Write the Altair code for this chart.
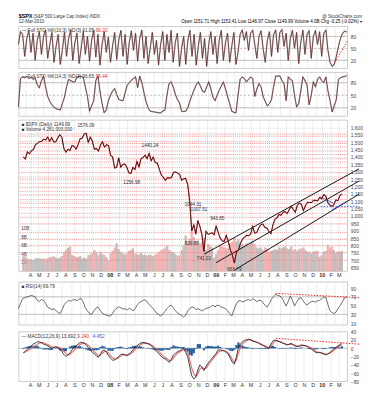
import json
import altair as alt
import pandas as pd

# ---------------- data (weekly) ----------------
START_DATE = "2007-03-09"

CLOSE = [
    1402, 1386, 1436, 1421, 1443, 1452, 1484, 1494, 1505, 1505, 1522, 1515, 1536, 1507, 1532, 1502, 1503,
    1530, 1552, 1534, 1458, 1433, 1453, 1445, 1479, 1473, 1453, 1484, 1525, 1527, 1557, 1561, 1500, 1535,
    1509, 1453, 1458, 1440, 1481, 1504, 1467, 1484, 1478,
    1411, 1401, 1325, 1330, 1395, 1331, 1349, 1353, 1331, 1293, 1288, 1330, 1315, 1370, 1332, 1390, 1397,
    1413, 1388, 1425, 1375, 1400, 1361, 1360, 1318, 1278, 1262, 1240, 1260, 1257, 1261, 1296, 1298, 1292,
    1283, 1242, 1252, 1255, 1213, 1099, 899, 940, 877, 968, 930, 873, 760, 896, 876, 879, 887, 872,
    931, 890, 850, 832, 826, 869, 827, 770, 735, 680, 756, 768, 815, 842, 857, 869, 866, 877, 929, 883,
    887, 919, 940, 946, 921, 918, 896, 879, 940, 979, 987, 1010, 1005, 1026, 1029, 1016, 1042, 1068, 1044,
    1025, 1071, 1087, 1080, 1036, 1069, 1093, 1091, 1091, 1106, 1106, 1102, 1126,
    1115, 1145, 1136, 1092, 1074, 1066, 1075, 1109, 1104, 1139, 1150,
]

VOLUME_B = [
    3.5, 3.8, 3.0, 2.8, 2.8, 2.6, 3.0, 3.1, 3.0, 2.9, 3.0, 2.8, 3.1, 3.3, 3.4, 3.5, 3.2, 3.0, 3.2, 3.6, 4.5,
    5.0, 5.5, 5.8, 3.8, 3.6, 3.4, 3.3, 3.6, 3.0, 3.2, 3.0, 3.8, 3.9, 4.2, 5.0, 4.4, 3.8, 4.6, 4.0, 3.8, 3.3, 2.5,
    4.2, 4.8, 5.6, 6.6, 5.2, 4.6, 4.2, 3.9, 4.2, 4.8, 5.0, 5.4, 4.1, 4.0, 3.9, 4.3, 3.8, 3.9, 3.7, 3.9, 3.8, 3.6,
    3.9, 4.2, 4.6, 5.0, 5.2, 5.6, 6.0, 5.0, 4.6, 4.4, 4.0, 3.6, 3.8, 5.0, 6.0, 8.4, 6.6, 7.6, 9.6, 8.0, 7.0, 7.2,
    6.5, 6.8, 7.8, 5.0, 6.4, 6.0, 5.6, 3.2,
    4.0, 5.0, 6.2, 5.8, 5.6, 5.4, 5.6, 6.6, 7.0, 7.8, 7.0, 7.4, 6.2, 6.4, 6.0, 6.6, 6.2, 6.8, 7.2, 6.4, 5.6, 5.4,
    5.6, 5.0, 5.6, 5.4, 4.6, 4.8, 4.9, 5.2, 5.0, 5.6, 5.4, 5.6, 5.8, 5.4, 5.2, 5.8, 5.0, 5.2, 4.8, 5.2, 5.4, 5.6,
    5.0, 4.6, 4.6, 4.2, 4.6, 4.8, 4.8, 3.4,
    3.8, 4.6, 4.8, 6.2, 5.6, 5.8, 5.0, 4.4, 4.6, 4.6, 4.8,
]

STO_FAST = [
    60, 92, 85, 30, 75, 95, 40, 88, 20, 70,
    92, 35, 80, 96, 25, 60, 90, 15, 55, 85,
    10, 45, 90, 30, 75, 95, 20, 65, 88, 12,
    50, 93, 35, 80, 18, 70, 96, 28, 85, 8,
    60, 92, 40, 78, 15, 55, 90, 22, 72, 95,
    30, 85, 10, 65, 94, 45, 88, 18, 75, 96,
    25, 80, 12, 50, 90, 35, 70, 8, 60, 92,
    20, 85, 40, 95, 15, 65, 88, 5, 50, 80,
    10, 70, 95, 30, 85, 8, 55, 90, 25, 75,
    5, 60, 92, 35, 80, 12, 70, 95, 20, 65,
    88, 15, 55, 90, 10, 40, 85, 96, 70, 92,
    45, 88, 95, 60, 25, 80, 94, 50, 15, 70,
    92, 30, 85, 96, 40, 90, 97, 55, 88, 20,
    75, 95, 50, 90, 12, 65, 96, 35, 85, 94,
    25, 80, 95, 60, 92, 30, 88, 96, 45, 15,
    5, 10, 30, 55, 75, 88, 93, 91.05,
]

STO_SLOW = [
    22, 90, 94, 92, 95, 90, 93, 88, 92, 75,
    68, 85, 95, 70, 47, 35, 27, 22, 18, 16,
    15, 30, 45, 70, 88, 85, 82, 82, 94, 95,
    95, 92, 70, 47, 12, 25, 37, 85, 96, 60,
    30, 8, 15, 37, 50, 60, 66, 52, 40, 38,
    37, 55, 74, 80, 86, 90, 94, 68, 96, 80,
    57, 35, 20, 12, 11, 10, 9, 8, 8, 12,
    14, 50, 78, 82, 70, 53, 40, 32, 12, 11,
    12, 20, 37, 50, 63, 75, 82, 72, 60, 57,
    70, 82, 65, 45, 37, 50, 62, 72, 82, 65,
    47, 30, 12, 9, 8, 50, 88, 94, 90, 82,
    88, 94, 90, 47, 65, 78, 70, 47, 35, 24,
    30, 40, 70, 96, 96, 96, 85, 78, 37, 94,
    88, 85, 50, 22, 30, 60, 94, 85, 74, 27,
    50, 82, 70, 88, 94, 85, 80, 94, 60, 37,
    10, 25, 40, 88, 92, 94, 95, 96.65,
]

RSI = [
    43, 55, 66, 68, 70, 71, 73, 72, 70, 62,
    59, 64, 62, 55, 46, 44, 41, 43, 38, 34,
    32, 42, 53, 58, 62, 60, 63, 64, 61, 65,
    66, 58, 45, 38, 32, 30, 38, 44, 47, 40,
    33, 30, 28, 27, 26, 32, 40, 44, 47, 45,
    42, 43, 40, 44, 41, 38, 45, 53, 58, 60,
    63, 62, 55, 50, 45, 40, 33, 30, 26, 31,
    36, 43, 48, 51, 45, 38, 34, 30, 27, 24,
    28, 38, 44, 47, 45, 41, 43, 40, 38, 42,
    44, 45, 48, 51, 47, 51, 50, 47, 45, 43,
    38, 32, 26, 40, 52, 60, 62, 58, 60, 62,
    64, 61, 66, 63, 59, 62, 62, 56, 50, 47,
    55, 65, 70, 76, 73, 72, 68, 58, 49, 60,
    72, 62, 49, 58, 66, 68, 62, 55, 51, 56,
    59, 60, 58, 61, 62, 65, 70, 68, 52, 38,
    34, 32, 36, 45, 51, 60, 68, 69.79,
]

MACD = [
    -12, -7, -2, 2, 6, 10, 13, 16, 15, 13,
    10, 8, 6, 3, 0, 2, 4, 2, -3, -8,
    -15, -20, -16, -11, -4, 2, 6, 10, 14, 14,
    12, 8, 2, -4, -10, -14, -18, -22, -14, -6,
    -4, -10, -18, -24, -29, -28, -24, -20, -15, -14,
    -16, -18, -14, -10, -4, 2, 6, 10, 13, 14,
    13, 11, 10, 6, 2, -4, -9, -14, -20, -24,
    -26, -30, -34, -26, -16, -12, -8, -6, -3, 0,
    -10, -20, -44, -66, -74, -70, -52, -40, -46, -54,
    -44, -36, -30, -24, -18, -12, -4, -4, -5, -6,
    -10, -14, -24, -34, -38, -20, 2, 10, 16, 19,
    21, 22, 20, 17, 16, 14, 12, 9, 7, 4,
    2, 0, 10, 18, 20, 18, 16, 14, 12, 10,
    8, 10, 12, 8, 5, 4, 6, 8, 7, 6,
    4, 1, -2, -6, -10, -11, -10, -12, -14, -16,
    -14, -10, -6, -2, 2, 6, 8, 13.69,
]

SIGNAL = [
    -10, -9, -6, -3, 0, 4, 7, 10, 13, 14,
    13, 11, 9, 7, 4, 2, 2, 3, 2, -2,
    -7, -13, -16, -15, -10, -5, 0, 5, 9, 12,
    13, 11, 7, 2, -4, -9, -13, -18, -17, -12,
    -8, -8, -12, -18, -23, -26, -26, -23, -19, -16,
    -15, -16, -16, -13, -9, -4, 1, 5, 9, 12,
    13, 12, 11, 8, 5, 1, -4, -9, -14, -19,
    -23, -26, -30, -29, -23, -17, -12, -9, -6, -3,
    -5, -12, -28, -48, -62, -68, -62, -50, -46, -49,
    -48, -42, -35, -29, -22, -16, -10, -7, -6, -6,
    -8, -11, -18, -27, -34, -28, -12, 2, 10, 15,
    18, 20, 21, 19, 17, 15, 13, 11, 8, 6,
    3, 1, 5, 12, 17, 18, 17, 15, 13, 11,
    9, 9, 10, 9, 7, 5, 5, 6, 7, 6,
    5, 3, 0, -3, -7, -9, -10, -11, -12, -14,
    -14, -12, -9, -5, -1, 3, 6, 9.24,
]

HIST = [
    -2, 2, 4, 5, 6, 6, 6, 6, 2, -1,
    -3, -3, -3, -4, -4, 0, 2, -1, -5, -6,
    -8, -7, 0, 4, 6, 7, 6, 5, 5, 2,
    -1, -3, -5, -6, -6, -5, -5, -4, 3, 6,
    4, -2, -6, -6, -6, -2, 2, 3, 4, 2,
    -1, -2, 2, 3, 5, 6, 5, 5, 4, 2,
    0, -1, -1, -2, -3, -5, -5, -5, -6, -5,
    -3, -4, -4, 3, 7, 5, 4, 3, 3, 3,
    -5, -8, -16, -18, -12, -2, 10, 10, 0, -5,
    4, 6, 5, 5, 4, 4, 6, 3, 1, 0,
    -2, -3, -6, -7, -4, 8, 14, 8, 6, 4,
    3, 2, -1, -2, -1, -1, -1, -2, -1, -2,
    -1, -1, 5, 6, 3, 0, -1, -1, -1, -1,
    -1, 1, 2, -1, -2, -1, 1, 2, 0, 0,
    -1, -2, -2, -3, -3, -2, 0, -1, -2, -2,
    0, 2, 3, 3, 3, 3, 2, 4.45,
]

for name, arr in [("VOLUME_B", VOLUME_B), ("STO_FAST", STO_FAST), ("STO_SLOW", STO_SLOW), ("RSI", RSI),
                  ("MACD", MACD), ("SIGNAL", SIGNAL), ("HIST", HIST)]:
    assert len(arr) == len(CLOSE), f"{name} has {len(arr)} values, CLOSE has {len(CLOSE)}"

MONTH_LABELS = ["A", "M", "J", "J", "A", "S", "O", "N", "D", "08", "F", "M",
                "A", "M", "J", "J", "A", "S", "O", "N", "D", "09", "F", "M",
                "A", "M", "J", "J", "A", "S", "O", "N", "D", "10", "F", "M"]

PRICE_TICKS = [650, 700, 750, 800, 850, 900, 950, 1000, 1050, 1100, 1150, 1200, 1250, 1300, 1350,
               1400, 1450, 1500, 1550, 1600]
VOLUME_TICKS = [2, 4, 6, 8, 10]
STO_TICKS = [20, 50, 80]
RSI_TICKS = [10, 30, 50, 70, 90]
MACD_TICKS = [-80, -60, -40, -20, 0, 20, 40]

PINK_LEVELS = [1557, 1541, 1506, 1492, 1468, 1440, 1417, 1388, 1366, 1328, 1294, 1264, 1250, 1222,
               1192, 1167, 1141, 1111, 1086, 1057, 1018, 989, 946, 887, 840, 800, 752, 700]

ANNOT_DATE = ["2007-10-11", "2008-05-19", "2008-03-17", "2008-10-14", "2008-11-04", "2009-01-06",
              "2008-10-10", "2008-11-21", "2009-03-06"]
ANNOT_PRICE = [1576.09, 1440.24, 1256.98, 1044.31, 1007.51, 943.85, 839.80, 741.02, 666.79]
ANNOT_SIDE = ["above", "above", "below", "above", "above", "above", "below", "below", "below"]

CHANNEL_NAME = ["upper", "upper", "middle", "middle", "lower", "lower"]
CHANNEL_DATE = ["2008-11-21", "2010-05-10", "2009-01-02", "2010-05-10", "2009-03-06", "2010-05-10"]
CHANNEL_PRICE = [740, 1320, 683, 1237, 632, 1148]

BLUE_NAME = ["fall", "fall", "rise", "rise"]
BLUE_DATE = ["2009-12-28", "2010-02-12", "2010-02-05", "2010-03-25"]
BLUE_PRICE = [1130, 1085, 1040, 1095]
BLUE_LEVEL_DATE = ["2009-12-29", "2010-05-12"]
BLUE_LEVEL_PRICE = [1065, 1065]

STO_TREND_DATE = ["2010-01-25", "2010-03-16"]
STO_TREND_VAL = [8, 70]
RSI_TREND_DATE = ["2009-07-17", "2010-04-22"]
RSI_TREND_VAL = [78, 68]
MACD_TREND_DATE = ["2009-07-27", "2010-05-10"]
MACD_TREND_VAL = [24, 10]

# ---------------- frames ----------------
dates = pd.date_range(START_DATE, periods=len(CLOSE), freq="7D")
main = pd.DataFrame({"date": dates, "close": CLOSE, "volume": VOLUME_B, "kfast": STO_FAST,
                     "kslow": STO_SLOW, "rsi": RSI, "macd": MACD, "signal": SIGNAL, "hist": HIST})
annot = pd.DataFrame({"date": pd.to_datetime(ANNOT_DATE), "price": ANNOT_PRICE, "side": ANNOT_SIDE})
annot["label"] = annot["price"].map(lambda v: f"{v:.2f}")
channel = pd.DataFrame({"line": CHANNEL_NAME, "date": pd.to_datetime(CHANNEL_DATE), "price": CHANNEL_PRICE})
blue = pd.DataFrame({"line": BLUE_NAME, "date": pd.to_datetime(BLUE_DATE), "price": BLUE_PRICE})
blue_level = pd.DataFrame({"date": pd.to_datetime(BLUE_LEVEL_DATE), "price": BLUE_LEVEL_PRICE})
sto_trend = pd.DataFrame({"date": pd.to_datetime(STO_TREND_DATE), "v": STO_TREND_VAL})
rsi_trend = pd.DataFrame({"date": pd.to_datetime(RSI_TREND_DATE), "v": RSI_TREND_VAL})
macd_trend = pd.DataFrame({"date": pd.to_datetime(MACD_TREND_DATE), "v": MACD_TREND_VAL})

# ---------------- styling helpers ----------------
W = 337
FONT = "Liberation Sans"
TICK_DATES = []
yy, mm = 2007, 4
for _ in MONTH_LABELS:
    TICK_DATES.append(alt.DateTime(year=yy, month=mm, date=1))
    mm += 1
    if mm > 12:
        mm, yy = 1, yy + 1
LABEL_EXPR = json.dumps(MONTH_LABELS) + "[(year(datum.value)-2007)*12+month(datum.value)-3]"
XSCALE = alt.Scale(domain=[alt.DateTime(year=2007, month=3, date=10),
                           alt.DateTime(year=2010, month=3, date=14)])


def xenc(show=False):
    return alt.X("date:T", scale=XSCALE, axis=alt.Axis(
        values=TICK_DATES, labels=show, labelExpr=LABEL_EXPR, grid=True, gridColor="#e2e2e2",
        gridWidth=0.6, ticks=False, domain=False, labelFontSize=5.5, labelPadding=1.5, labelColor="#333",
        labelFontWeight={"condition": {"test": "month(datum.value)==0", "value": "bold"}, "value": "normal"},
        labelOverlap=False, labelFlush=False, title=None))


def yenc(field, domain, ticks, grid=False):
    return alt.Y(f"{field}:Q", scale=alt.Scale(domain=domain, nice=False, zero=False),
                 axis=alt.Axis(orient="right", values=ticks, grid=grid, gridColor="#e6e6e6", gridWidth=0.6,
                               ticks=False, domain=False, labelFontSize=5, labelColor="#444",
                               labelPadding=3, minExtent=0, title=None))


def label_layer(text, x, y, color="#333", weight="normal", size=4.8, align="left"):
    return alt.Chart(pd.DataFrame({"t": [text]})).mark_text(
        align=align, baseline="top", fontSize=size, color=color, fontWeight=weight, font=FONT
    ).encode(x=alt.value(x), y=alt.value(y), text="t:N")


def hline(levels, field, domain, ticks, color="#a0a0a0", dash=None):
    return alt.Chart(pd.DataFrame({field: levels})).mark_rule(
        color=color, strokeWidth=0.7, strokeDash=dash or [1, 0]
    ).encode(y=yenc(field, domain, ticks))


# ---------------- header ----------------
header = alt.layer(
    label_layer("$SPX", 0, 0, color="#000", weight="bold", size=5.5),
    label_layer("(S&P 500 Large Cap Index)  INDX", 15, 0.5, size=4.6),
    label_layer("@ StockCharts.com", 352, 0, size=4.6, align="right"),
    label_layer("12-Mar-2010", 0, 5, size=4.6),
    label_layer("Open 1151.71  High 1153.41  Low 1146.97  Close 1149.99  Volume 4.0B  Chg -0.25 (-0.02%) \u25be",
                352, 5, color="#000", size=4.6, align="right"),
).properties(width=W, height=9, view=alt.ViewBackground(stroke="transparent"))


# ---------------- stochastic panels ----------------
def sto_panel(field, text_black, text_red, red_x, h, trend=None):
    dom = [0, 105]
    layers = [
        hline([20, 80], field, dom, STO_TICKS, color="#9a9a9a"),
        hline([50], field, dom, STO_TICKS, color="#9a9a9a", dash=[2, 2]),
        alt.Chart(main).mark_line(color="#a8a8a8", strokeWidth=1.3).encode(x=xenc(), y=yenc(field, dom, STO_TICKS)),
        alt.Chart(main).mark_line(color="#5a0c0c", strokeWidth=0.6).encode(x=xenc(), y=yenc(field, dom, STO_TICKS)),
    ]
    if trend is not None:
        layers.append(alt.Chart(trend).mark_line(color="#ff2020", strokeDash=[1.5, 1.5], strokeWidth=1, clip=False)
                      .encode(x=xenc(), y=yenc("v", dom, STO_TICKS)))
    layers.append(label_layer(text_black, 3, 2))
    layers.append(label_layer(text_red, red_x, 2, color="#e03030"))
    return alt.layer(*layers).properties(width=W, height=h)


p1 = sto_panel("kfast", "\u2014 Full STO %K(10,3) %D(3) 91.05,", "90.20", 79, 43, sto_trend)
p2 = sto_panel("kslow", "\u2014 Full STO %K(14,3) %D(3) 96.65,", "95.44", 79, 45)

# ---------------- price panel ----------------
PDOM = [625, 1651]
pink = alt.Chart(pd.DataFrame({"lvl": PINK_LEVELS})).mark_rule(
    color="#f07c7c", strokeDash=[1, 1.2], strokeWidth=0.8).encode(y=yenc("lvl", PDOM, PRICE_TICKS, grid=True))
chan = alt.Chart(channel).mark_line(color="#111", strokeWidth=1, clip=False).encode(
    x=xenc(True), y=yenc("price", PDOM, PRICE_TICKS, grid=True), detail="line:N")
blue_lines = alt.Chart(blue).mark_line(color="#2a50e0", strokeWidth=0.9, clip=False).encode(
    x=xenc(True), y=yenc("price", PDOM, PRICE_TICKS, grid=True), detail="line:N")
blue_dots = alt.Chart(blue_level).mark_line(color="#2a50e0", strokeWidth=0.9, strokeDash=[1.5, 1.5],
                                            clip=False).encode(
    x=xenc(True), y=yenc("price", PDOM, PRICE_TICKS, grid=True))
price_red = alt.Chart(main).mark_line(color="#d83030", strokeWidth=1.1).encode(
    x=xenc(True), y=yenc("close", PDOM, PRICE_TICKS, grid=True))
price_blk = alt.Chart(main).mark_line(color="#000", strokeWidth=0.6).encode(
    x=xenc(True), y=yenc("close", PDOM, PRICE_TICKS, grid=True))
ann_above = alt.Chart(annot).transform_filter("datum.side == 'above'").mark_text(
    fontSize=4.8, color="#333", dy=-5, font=FONT).encode(
    x=xenc(True), y=yenc("price", PDOM, PRICE_TICKS, grid=True), text="label:N")
ann_below = alt.Chart(annot).transform_filter("datum.side == 'below'").mark_text(
    fontSize=4.8, color="#333", dy=5, font=FONT).encode(
    x=xenc(True), y=yenc("price", PDOM, PRICE_TICKS, grid=True), text="label:N")
price_layers = alt.layer(pink, chan, blue_lines, blue_dots, price_red, price_blk, ann_above, ann_below)

vol = alt.Chart(main).transform_window(
    prev="lag(close)", sort=[alt.SortField("date")]
).mark_bar(width=2.2, opacity=0.85).encode(
    x=xenc(True),
    y=alt.Y("volume:Q", scale=alt.Scale(domain=[0, 35.5], nice=False),
            axis=alt.Axis(orient="left", values=VOLUME_TICKS, labelExpr="datum.value + 'B'", ticks=False,
                          domain=False, grid=False, labelAlign="left", labelPadding=-2, labelFontSize=4.8,
                          labelColor="#444", minExtent=0, title=None)),
    color=alt.condition("datum.close >= datum.prev", alt.value("#b3b3b3"), alt.value("#f0a3a3")),
)

price_panel = alt.layer(
    vol, price_layers,
    label_layer("\u25a0 $SPX (Daily) 1149.99", 3, 2),
    label_layer("\u25a0 Volume 4,261,000,000", 3, 7.5),
).resolve_scale(y="independent").properties(width=W, height=155)

# ---------------- RSI panel ----------------
RDOM = [6, 104]
rsi_panel = alt.layer(
    hline([30, 70], "rsi", RDOM, RSI_TICKS, color="#9a9a9a"),
    alt.Chart(main).mark_line(color="#444", strokeWidth=0.8).encode(x=xenc(), y=yenc("rsi", RDOM, RSI_TICKS)),
    alt.Chart(rsi_trend).mark_line(color="#ff2020", strokeDash=[1.5, 1.5], strokeWidth=1, clip=False)
    .encode(x=xenc(), y=yenc("v", RDOM, RSI_TICKS)),
    label_layer("\u25a0 RSI(14) 69.79", 3, 2),
).properties(width=W, height=44)

# ---------------- MACD panel ----------------
MDOM = [-80, 40]
macd_panel = alt.layer(
    hline([0], "macd", MDOM, MACD_TICKS, color="#9a9a9a"),
    alt.Chart(main).mark_bar(width=2.2, color="#1f5c9e").encode(
        x=xenc(True), y=yenc("hist", MDOM, MACD_TICKS, grid=True), y2=alt.datum(0)),
    alt.Chart(main).mark_line(color="#e86a6a", strokeWidth=1.1).encode(
        x=xenc(True), y=yenc("signal", MDOM, MACD_TICKS, grid=True)),
    alt.Chart(main).mark_line(color="#111", strokeWidth=0.8).encode(
        x=xenc(True), y=yenc("macd", MDOM, MACD_TICKS, grid=True)),
    alt.Chart(macd_trend).mark_line(color="#ff2020", strokeDash=[1.5, 1.5], strokeWidth=1, clip=False)
    .encode(x=xenc(True), y=yenc("v", MDOM, MACD_TICKS, grid=True)),
    label_layer("\u2014 MACD(12,26,9) 13.692,", 3, 2),
    label_layer("9.240,", 60, 2, color="#e03030"),
    label_layer("4.452", 76, 2, color="#3060c0"),
).properties(width=W, height=51)

chart = alt.vconcat(header, p1, p2, price_panel, rsi_panel, macd_panel, spacing=2).properties(
    padding={"left": 7, "top": 0, "right": 0, "bottom": 0}, background="white"
).configure_view(stroke="#a8a8a8", strokeWidth=0.6).configure_axis(labelFont=FONT).configure_text(font=FONT)

chart.save("out.html", embed_options={"renderer": "svg", "actions": False})
